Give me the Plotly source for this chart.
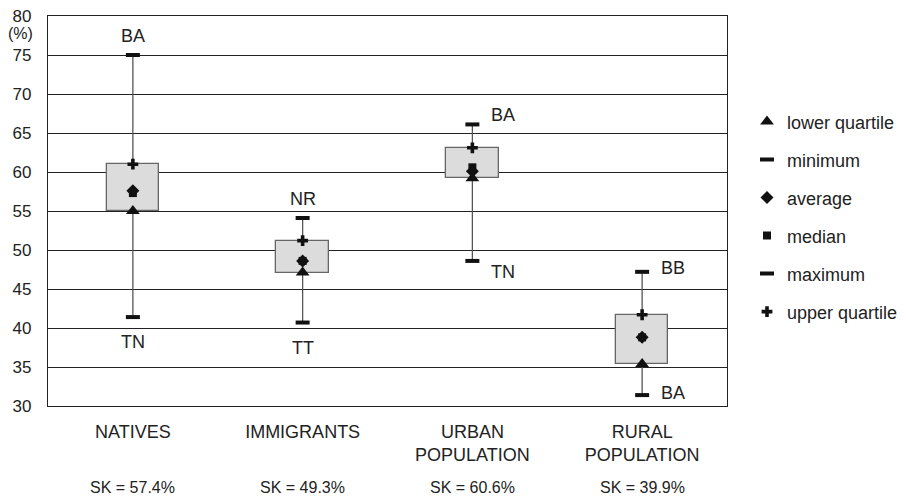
import plotly.graph_objects as go

categories = ["NATIVES", "IMMIGRANTS", "URBAN<br>POPULATION", "RURAL<br>POPULATION"]
sk_labels = ["SK = 57.4%", "SK = 49.3%", "SK = 60.6%", "SK = 39.9%"]

minimum = [41.4, 40.7, 48.6, 31.4]
lower_quartile = [55.0, 47.1, 59.2, 35.4]
median = [57.3, 48.6, 60.6, 38.8]
average = [57.6, 48.6, 60.1, 38.8]
upper_quartile = [61.0, 51.2, 63.1, 41.7]
maximum = [75.0, 54.1, 66.1, 47.2]

max_labels = ["BA", "NR", "BA", "BB"]
max_label_pos = ["above", "above", "right", "right"]
min_labels = ["TN", "TT", "TN", "BA"]
min_label_pos = ["below", "below", "right", "right"]

y_ticks = [30, 35, 40, 45, 50, 55, 60, 65, 70, 75, 80]

FONT = "Liberation Sans, Arial, Helvetica, sans-serif"
TXT = "#222222"
xi = list(range(len(categories)))

fig = go.Figure()

# whiskers (split so they don't cross the box)
wx, wy = [], []
for i in xi:
    wx += [i, i, None, i, i, None]
    wy += [minimum[i], lower_quartile[i], None, upper_quartile[i], maximum[i], None]
fig.add_trace(go.Scatter(x=wx, y=wy, mode="lines", line=dict(color="#555555", width=1.3),
                         showlegend=False, hoverinfo="skip"))

# boxes
fig.add_trace(go.Bar(x=xi, base=lower_quartile,
                     y=[u - l for u, l in zip(upper_quartile, lower_quartile)],
                     width=0.31, marker=dict(color="#dcdcdc", line=dict(color="#666666", width=1.3)),
                     showlegend=False, hoverinfo="skip"))

def mk(name, vals, symbol, size, group, rank, line_w=0):
    fig.add_trace(go.Scatter(
        x=xi, y=vals, mode="markers", name=name, legendgroup=group, legendrank=rank,
        marker=dict(symbol=symbol, size=size, color="#111111",
                    line=dict(color="#111111", width=line_w)),
    ))

mk("lower quartile", lower_quartile, "triangle-up", 12, "g1", 1)
mk("minimum", minimum, "line-ew", 10, "g2", 2, 4)
mk("median", median, "square", 8, "g4", 4)
mk("average", average, "diamond", 10, "g3", 3)
mk("maximum", maximum, "line-ew", 10, "g5", 5, 4)
mk("upper quartile", upper_quartile, "cross", 9, "g6", 6)

annotations = []
for i in xi:
    for txt, pos, val in ((max_labels[i], max_label_pos[i], maximum[i]),
                          (min_labels[i], min_label_pos[i], minimum[i])):
        if pos == "above":
            a = dict(xshift=0, yshift=19, xanchor="center", yanchor="middle")
        elif pos == "below":
            a = dict(xshift=0, yshift=-25, xanchor="center", yanchor="middle")
        else:
            a = dict(xshift=17, yshift=(9 if val == maximum[i] else -11) if i == 2 else (4 if val == maximum[i] else 2),
                     xanchor="left", yanchor="middle")
        annotations.append(dict(x=i, y=val, xref="x", yref="y", text=txt, showarrow=False,
                                font=dict(size=18, color=TXT, family=FONT), **a))
    annotations.append(dict(x=i, y=0, xref="x", yref="paper", text=sk_labels[i], showarrow=False,
                            yshift=-81, yanchor="middle", xanchor="center",
                            font=dict(size=16, color=TXT, family=FONT)))

annotations.append(dict(x=0, y=80, xref="paper", yref="y", text="(%)", showarrow=False,
                        xshift=-28, yshift=-17, xanchor="center", yanchor="middle",
                        font=dict(size=16, color=TXT, family=FONT)))

fig.update_layout(
    width=906, height=497,
    margin=dict(l=48, r=179, t=16, b=91, autoexpand=False),
    paper_bgcolor="white", plot_bgcolor="white",
    font=dict(family=FONT, size=16, color=TXT),
    showlegend=True,
    legend=dict(xref="container", yref="container", x=0.8245, y=0.792,
                xanchor="left", yanchor="top",
                traceorder="grouped", tracegroupgap=11.6,
                font=dict(size=18, family=FONT, color=TXT),
                bgcolor="rgba(0,0,0,0)"),
    annotations=annotations,
    bargap=0,
)
fig.update_xaxes(range=[-0.5, 3.5], tickmode="array", tickvals=xi, ticktext=categories,
                 showgrid=False, zeroline=False, showline=True, mirror=True, automargin=False,
                 linecolor="#222222", linewidth=1.3, ticks="", ticklabelstandoff=9,
                 tickfont=dict(size=18, family=FONT, color=TXT))
fig.update_yaxes(range=[30, 80], tickmode="array", tickvals=y_ticks,
                 showgrid=True, gridcolor="#222222", gridwidth=1.2, zeroline=False,
                 showline=True, mirror=True, linecolor="#222222", linewidth=1.3, automargin=False,
                 ticks="", ticklabelstandoff=12,
                 tickfont=dict(size=17, family=FONT, color=TXT))

fig.write_html("out.html", config={"displayModeBar": False},
               post_script="document.body.style.margin='0';")
